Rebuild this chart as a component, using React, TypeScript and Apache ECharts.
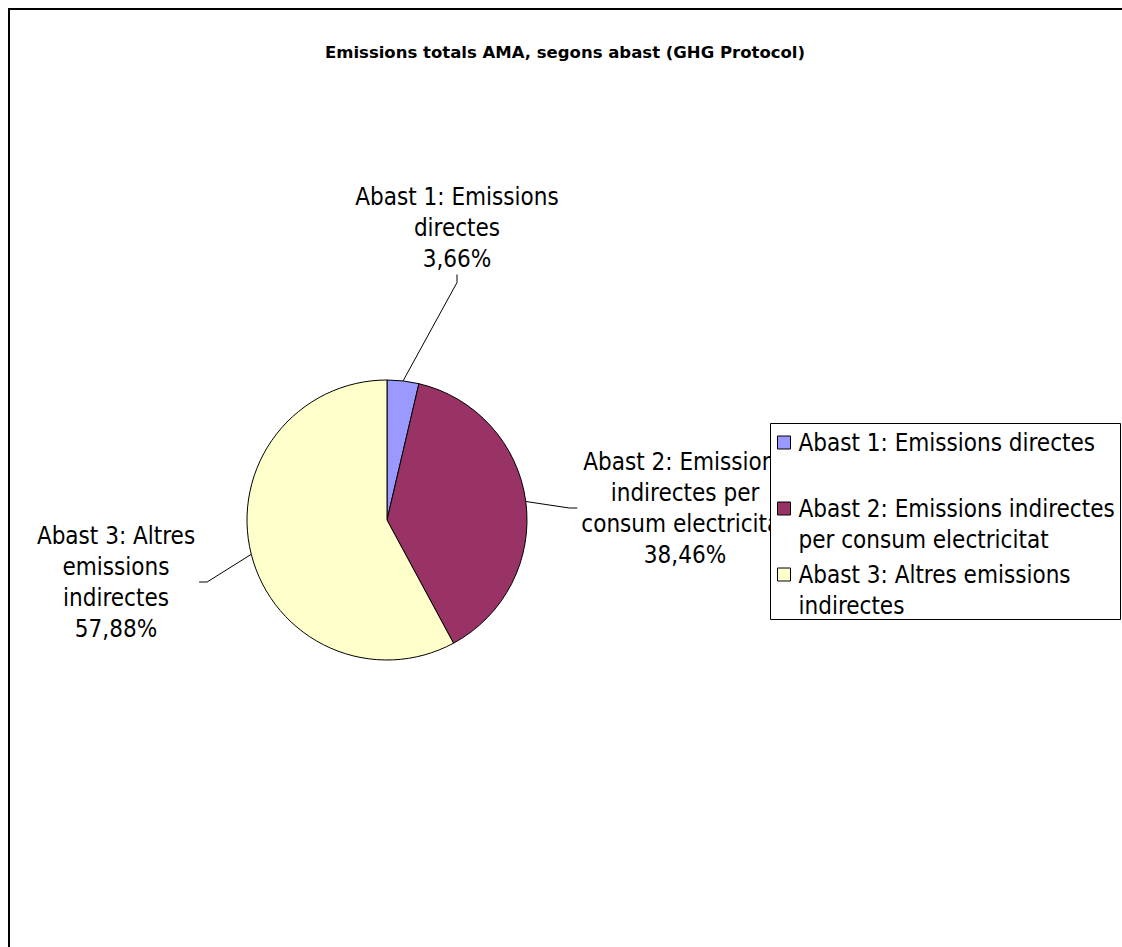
import React, { useEffect, useRef } from "react";
import * as echarts from "echarts";

// Emissions by scope (GHG Protocol), share of total in %
const categories = [
  "Abast 1: Emissions directes",
  "Abast 2: Emissions indirectes per consum electricitat",
  "Abast 3: Altres emissions indirectes",
];
const shares = [3.66, 38.46, 57.88];
const sliceColors = ["#9999FF", "#993366", "#FFFFCC"];

// Line breaks used by the slice labels and by the legend entries
const labelLines = [
  ["Abast 1: Emissions", "directes"],
  ["Abast 2: Emissions", "indirectes per", "consum electricitat"],
  ["Abast 3: Altres", "emissions", "indirectes"],
];
const legendLines = [
  ["Abast 1: Emissions directes", " "],
  ["Abast 2: Emissions indirectes", "per consum electricitat"],
  ["Abast 3: Altres emissions", "indirectes"],
];

const title = "Emissions totals AMA, segons abast (GHG Protocol)";

const FONT = "'DejaVu Sans Condensed', 'DejaVu Sans', sans-serif";

// Label anchor points (chart-local px)
const labelPos = [
  [449, 220],
  [677, 500],
  [108, 574],
];

// Legend frame (chart-local px)
const legendBox = { x: 762.5, y: 415.5, width: 350, height: 196 };

const fmtPct = (v: number) => v.toFixed(2).replace(".", ",") + "%";

export default function App() {
  const ref = useRef<HTMLDivElement>(null);

  useEffect(() => {
    if (!ref.current) return;
    const chart = echarts.init(ref.current, undefined, { renderer: "svg" });
    const total = shares.reduce((a, b) => a + b, 0);

    chart.setOption({
      animation: false,
      backgroundColor: "#fff",
      title: {
        text: title,
        left: "center",
        top: 31,
        textStyle: {
          fontFamily: "'DejaVu Sans', sans-serif",
          fontWeight: "bold",
          fontSize: 16.5,
          color: "#000",
        },
      },
      graphic: [
        {
          type: "rect",
          silent: true,
          z: 0,
          shape: { x: 1, y: 1, width: 3000, height: 3000 },
          style: { fill: "none", stroke: "#000", lineWidth: 2 },
        },
        {
          // legend frame, drawn above the slice labels and below the legend items
          type: "rect",
          silent: true,
          z: 3,
          shape: legendBox,
          style: { fill: "#fff", stroke: "#000", lineWidth: 1 },
        },
      ],
      legend: {
        orient: "vertical",
        left: 762,
        top: 388,
        padding: [0, 0, 0, 7],
        // each entry carries a blank leading line so its marker sits on the first text line
        itemGap: -27,
        itemWidth: 13,
        itemHeight: 13,
        icon: "rect",
        selectedMode: false,
        z: 4,
        itemStyle: { borderColor: "#000", borderWidth: 1 },
        data: categories,
        formatter: (name: string) =>
          [" ", ...legendLines[categories.indexOf(name)]].join("\n"),
        textStyle: {
          fontFamily: FONT,
          fontSize: 24,
          lineHeight: 31,
          color: "#000",
          padding: [0, 0, 0, 3],
        },
      },
      series: [
        {
          type: "pie",
          z: 2,
          center: [379, 512],
          radius: 140,
          startAngle: 90,
          clockwise: true,
          avoidLabelOverlap: false,
          itemStyle: { borderColor: "#000", borderWidth: 1 },
          label: {
            show: true,
            position: "outside",
            fontFamily: FONT,
            fontSize: 24,
            lineHeight: 31,
            color: "#000",
            align: "center",
            padding: [0, 4],
            formatter: (p: any) =>
              [...labelLines[p.dataIndex], fmtPct((shares[p.dataIndex] / total) * 100)].join("\n"),
          },
          labelLine: {
            show: true,
            length: 10,
            length2: 8,
            lineStyle: { color: "#000", width: 1 },
          },
          labelLayout: (p: any) => ({
            x: labelPos[p.dataIndex][0],
            y: labelPos[p.dataIndex][1],
            align: "center",
            verticalAlign: "middle",
          }),
          data: categories.map((name, i) => ({
            name,
            value: shares[i],
            itemStyle: { color: sliceColors[i] },
          })),
        },
      ],
    });

    return () => chart.dispose();
  }, []);

  return (
    <div
      ref={ref}
      style={{ position: "absolute", left: 8, top: 8, width: 1114, height: 939 }}
    />
  );
}
